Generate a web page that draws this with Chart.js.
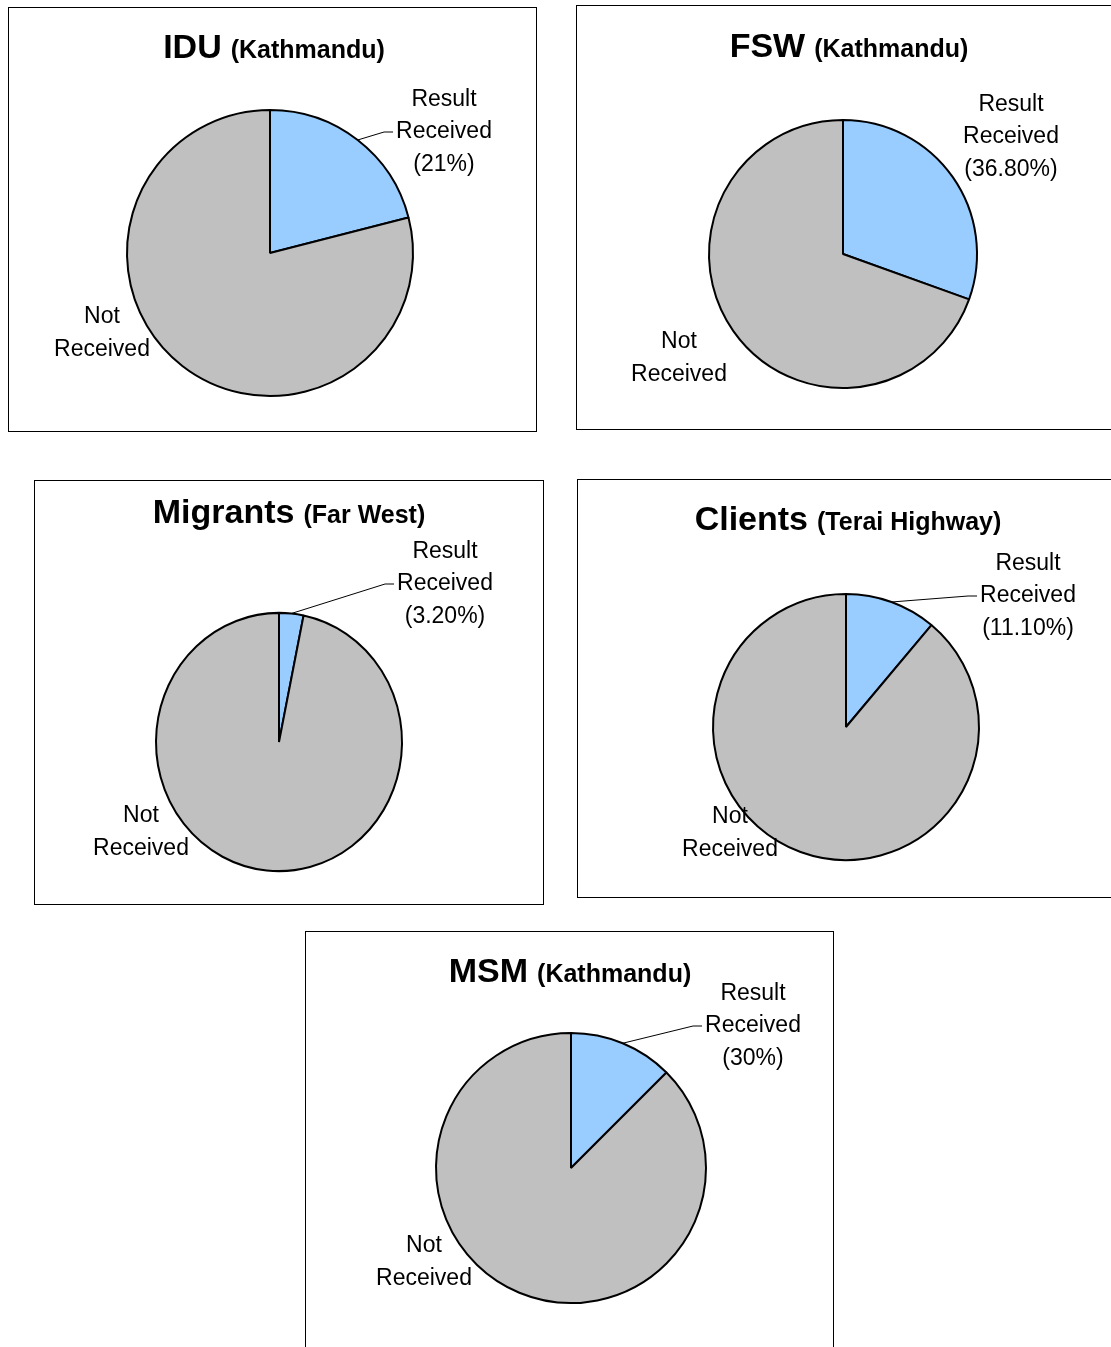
<!DOCTYPE html>
<html lang="en">
<head>
  <meta charset="UTF-8">
  <title>HIV test result received</title>
  <script src="https://cdn.jsdelivr.net/npm/chart.js"></script>
  <style>
    html, body { margin: 0; padding: 0; background: #fff; overflow: hidden; }
    body { width: 1111px; height: 1347px; position: relative; }
    .panel { position: absolute; border: 1px solid #000; box-sizing: border-box; background: #fff; }
    .panel canvas { position: absolute; left: 0; top: 0; }
  </style>
</head>
<body>
  <div id="wrap"></div>

  <script>
    // data
    const groups = ['IDU', 'FSW', 'Migrants', 'Clients', 'MSM'];
    const places = ['(Kathmandu)', '(Kathmandu)', '(Far West)', '(Terai Highway)', '(Kathmandu)'];
    const categories = ['Result Received', 'Not Received'];
    // slice sizes as drawn in each pie (%)
    const received = [21, 30.5, 3.2, 11.1, 12.5];
    const notReceived = [79, 69.5, 96.8, 88.9, 87.5];
    // percentage text printed next to each pie
    const receivedText = ['(21%)', '(36.80%)', '(3.20%)', '(11.10%)', '(30%)'];

    // page layout of each panel: box, pie centre/radius, title, label offsets from pie centre
    const panels = [
      { box: [8, 7, 529, 425],   cx: 270, cy: 253,  r: 143, sy: 1,    tx: 274, ty: 58,  res: [174, -121], not: [-168, 80],  leader: true },
      { box: [576, 5, 545, 425], cx: 843, cy: 254,  r: 134, sy: 1,    tx: 849, ty: 57,  res: [168, -117], not: [-164, 104], leader: false },
      { box: [34, 480, 510, 425], cx: 279, cy: 742, r: 123, sy: 1.05, tx: 289, ty: 523, res: [166, -158], not: [-138, 90],  leader: true },
      { box: [577, 479, 545, 419], cx: 846, cy: 727, r: 133, sy: 1,   tx: 848, ty: 530, res: [182, -131], not: [-116, 106], leader: true },
      { box: [305, 931, 529, 430], cx: 571, cy: 1168, r: 135, sy: 1,  tx: 570, ty: 982, res: [182, -142], not: [-147, 94],  leader: true }
    ];

    const FONT = '"Liberation Sans", Arial, sans-serif';
    const LINE = 32.5;

    function drawLines(ctx, lines, x, yMid) {
      const y0 = yMid - (lines.length - 1) / 2 * LINE;
      lines.forEach((t, k) => ctx.fillText(t, x, y0 + k * LINE));
    }

    const wrap = document.getElementById('wrap');

    panels.forEach((p, i) => {
      const [bx, by, bw, bh] = p.box;
      const div = document.createElement('div');
      div.className = 'panel';
      div.style.left = bx + 'px';
      div.style.top = by + 'px';
      div.style.width = bw + 'px';
      div.style.height = bh + 'px';
      const canvas = document.createElement('canvas');
      const cw = bw - 2, ch = bh - 2;
      canvas.width = cw;
      canvas.height = ch;
      canvas.style.width = cw + 'px';
      canvas.style.height = ch + 'px';
      div.appendChild(canvas);
      wrap.appendChild(div);

      // local pie centre inside the canvas
      const lx = p.cx - (bx + 1), ly = p.cy - (by + 1);
      const half = p.r + 2;

      const panelPlugin = {
        id: 'panelText',
        beforeDatasetsDraw(chart) {
          const a = chart.getDatasetMeta(0).data[0];
          const ctx = chart.ctx;
          ctx.save();
          ctx.translate(a.x, a.y);
          ctx.scale(1, p.sy);
          ctx.translate(-a.x, -a.y);
        },
        afterDatasetsDraw(chart) {
          chart.ctx.restore();
        },
        afterDraw(chart) {
          const ctx = chart.ctx;
          const a = chart.getDatasetMeta(0).data[0];
          ctx.save();
          ctx.fillStyle = '#000';

          // title: bold group name + smaller bold place
          ctx.textBaseline = 'alphabetic';
          ctx.textAlign = 'left';
          ctx.font = 'bold 34px ' + FONT;
          const w1 = ctx.measureText(groups[i]).width;
          ctx.font = 'bold 25px ' + FONT;
          const w2 = ctx.measureText(places[i]).width;
          const gap = 9;
          const x0 = (p.tx - bx - 1) - (w1 + gap + w2) / 2;
          const yT = p.ty - by - 1;
          ctx.font = 'bold 34px ' + FONT;
          ctx.fillText(groups[i], x0, yT);
          ctx.font = 'bold 25px ' + FONT;
          ctx.fillText(places[i], x0 + w1 + gap, yT);

          // data labels
          ctx.font = '23px ' + FONT;
          ctx.textAlign = 'center';
          ctx.textBaseline = 'middle';
          const rx = a.x + p.res[0], ry = a.y + p.res[1];
          drawLines(ctx, ['Result', 'Received', receivedText[i]], rx, ry);
          drawLines(ctx, ['Not', 'Received'], a.x + p.not[0], a.y + p.not[1]);

          // leader line from the middle of the received slice
          if (p.leader) {
            const mid = (a.startAngle + a.endAngle) / 2;
            const sx = a.x + Math.cos(mid) * a.outerRadius;
            const sy = a.y + Math.sin(mid) * a.outerRadius * p.sy;
            const left = rx - ctx.measureText('Received').width / 2 - 3;
            ctx.strokeStyle = '#000';
            ctx.lineWidth = 1;
            ctx.beginPath();
            ctx.moveTo(sx, sy);
            ctx.lineTo(left - 9, ry);
            ctx.lineTo(left, ry);
            ctx.stroke();
          }
          ctx.restore();
        }
      };

      new Chart(canvas, {
        type: 'pie',
        data: {
          labels: categories,
          datasets: [{
            data: [received[i], notReceived[i]],
            backgroundColor: ['#99CCFF', '#C0C0C0'],
            borderColor: '#000',
            borderWidth: 2,
            radius: p.r
          }]
        },
        options: {
          responsive: false,
          animation: false,
          events: [],
          layout: {
            padding: { left: lx - half, top: ly - half, right: cw - lx - half, bottom: ch - ly - half }
          },
          plugins: {
            legend: { display: false },
            tooltip: { enabled: false },
            title: { display: false }
          }
        },
        plugins: [panelPlugin]
      });
    });
  </script>
</body>
</html>
